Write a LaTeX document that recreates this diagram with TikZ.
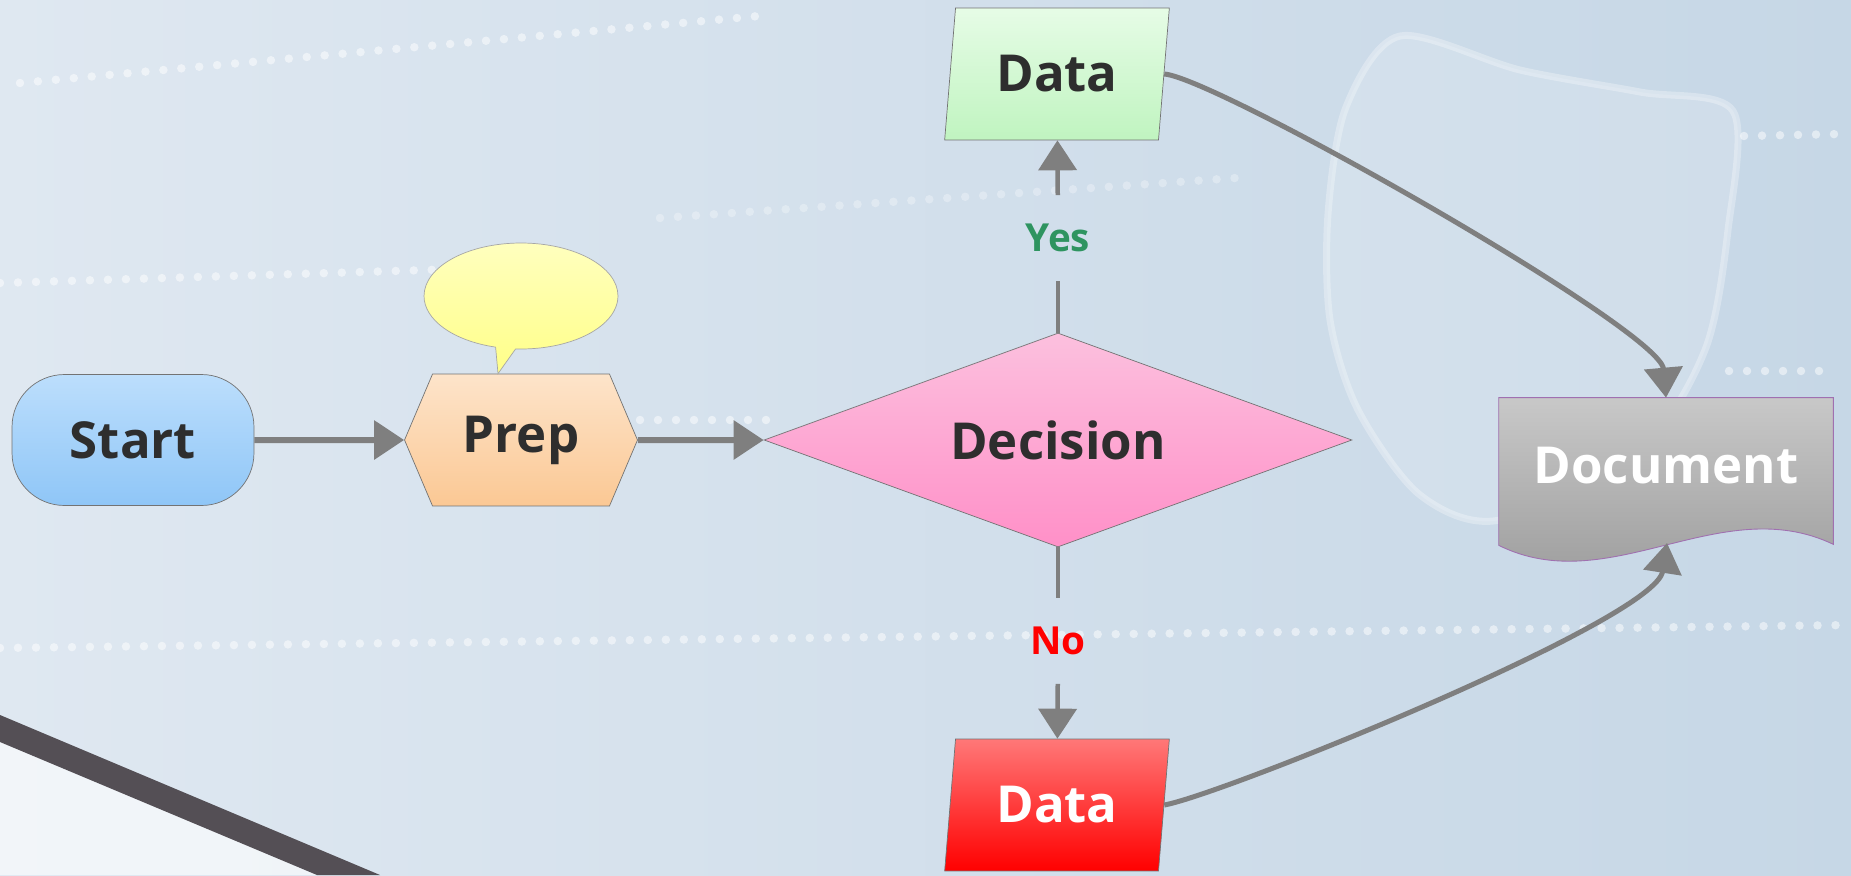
\documentclass[tikz,border=0pt]{standalone}
\usepackage{fontspec}
\setmainfont{Open Sans}
\usetikzlibrary{shapes.geometric,shapes.symbols,shapes.callouts,arrows.meta,calc,backgrounds}
\definecolor{bgleft}{HTML}{DFE8F1}
\definecolor{bgright}{HTML}{C6D7E6}
\definecolor{bar}{HTML}{544F55}
\definecolor{linkgray}{HTML}{7F7F7F}
\definecolor{yesgreen}{HTML}{2E9460}
\definecolor{docedge}{HTML}{A070B0}

\begin{document}
\begin{tikzpicture}[x=0.02cm,y=-0.02cm,
	box/.style={draw=black!55,line width=0.4pt,inner sep=0pt,font=\fontsize{29}{34}\selectfont\bfseries,text=black!82},
	link/.style={draw=linkgray,line width=0.12cm,-{Triangle[length=0.6cm,width=0.76cm]}},
	plain link/.style={draw=linkgray,line width=0.09cm},
	answer/.style={inner sep=0pt,minimum height=1.7cm,font=\fontsize{22}{26}\selectfont\bfseries},
	dots/.style={white,opacity=0.5,line width=0.17cm,line cap=round,dash pattern=on 0pt off 0.36cm}]
	\useasboundingbox (0,0) rectangle (1851,875);
	\begin{scope}[on background layer]
		\shade[left color=bgleft,right color=bgright] (0,0) rectangle (1851,875);
		\fill[white,opacity=0.6] (0,740) -- (319,875) -- (0,875) -- cycle;
		\fill[bar] (0,715) -- (380,875) -- (317,875) -- (0,742) -- cycle;
		\draw[white,opacity=0.3,line width=0.14cm,fill=white,fill opacity=0.15] plot[smooth cycle,tension=0.5] coordinates {(1400,36) (1520,70) (1640,92) (1733,111) (1728,230) (1705,350) (1640,450) (1500,520) (1420,495) (1358,410) (1330,320) (1328,214) (1346,107)};
		\draw[dots] (20,83) -- (770,15);
		\draw[dots] (0,283) -- (460,269);
		\draw[dots,opacity=0.3] (660,218) -- (1250,177);
		\draw[dots] (640,420) -- (770,420);
		\draw[dots] (0,648) -- (1851,625);
		\draw[dots] (1744,136) -- (1840,134);
		\draw[dots] (1729,371) -- (1835,371);
	\end{scope}

	\node[box,rounded corners=1.05cm,top color={rgb,255:red,188;green,222;blue,252},bottom color={rgb,255:red,143;green,198;blue,247},minimum width=4.84cm,minimum height=2.62cm] (start) at (133,440) {Start};
	\node[box,signal,signal to=east and west,signal pointer angle=134,top color={rgb,255:red,253;green,228;blue,202},bottom color={rgb,255:red,251;green,200;blue,148},minimum width=4.66cm,minimum height=2.64cm] (prep) at (521,440) {Prep};
	\node[draw=black!35,line width=0.4pt,ellipse callout,top color={rgb,255:red,255;green,255;blue,190},bottom color={rgb,255:red,255;green,255;blue,136},minimum width=3.88cm,minimum height=2.12cm,callout absolute pointer={($(prep.north)+(-23,0)$)},callout pointer arc=12] (note) at (521,296) {};
	\node[box,diamond,aspect=2.75,top color={rgb,255:red,252;green,192;blue,222},bottom color={rgb,255:red,255;green,144;blue,200},minimum width=11.76cm,minimum height=4.28cm] (decision) at (1058,440) {Decision};
	\node[box,trapezium,trapezium left angle=80,trapezium right angle=100,trapezium stretches=true,top color={rgb,255:red,230;green,252;blue,230},bottom color={rgb,255:red,192;green,244;blue,192},minimum width=4.52cm,minimum height=2.64cm] (datayes) at (1057,74) {Data};
	\node[box,trapezium,trapezium left angle=80,trapezium right angle=100,trapezium stretches=true,top color={rgb,255:red,255;green,120;blue,120},middle color=red,bottom color=red,text=white,minimum width=4.52cm,minimum height=2.64cm] (datano) at (1057,805) {Data};
	\node[box,draw=none,text=white,minimum width=6.68cm,minimum height=2.72cm] (doc) at (1666,466) {Document};
	\begin{scope}[on background layer]
		\shade[top color={rgb,255:red,200;green,200;blue,200},bottom color={rgb,255:red,153;green,153;blue,153},draw=docedge,line width=0.5pt] (doc.north west) -- (doc.north east) -- ($(doc.south east)+(0,10)$) .. controls ($(doc.south east)+(-113,-44)$) and ($(doc.south west)+(111,66)$) .. ($(doc.south west)+(0,11)$) -- cycle;
	\end{scope}
	\coordinate (docin) at (1667,543);

	\node[answer,text=yesgreen] (yes) at (1058,238) {Yes};
	\node[answer,text=red] (no) at (1058,641) {No};

	\draw[link] (start) -- (prep);
	\draw[link] (prep) -- (decision);
	\draw[plain link] (decision.north) -- (yes);
	\draw[link,line width=0.09cm] (yes) -- (datayes);
	\draw[plain link] (decision.south) -- (no);
	\draw[link,line width=0.09cm] (no) -- (datano);
	\draw[link,line width=0.1cm] (datayes.east) .. controls +(52,4) and +(-6,-68) .. (doc.north);
	\draw[link,line width=0.1cm] (datano.east) .. controls +(57,-10) and +(-12,77) .. (docin);
\end{tikzpicture}
\end{document}
